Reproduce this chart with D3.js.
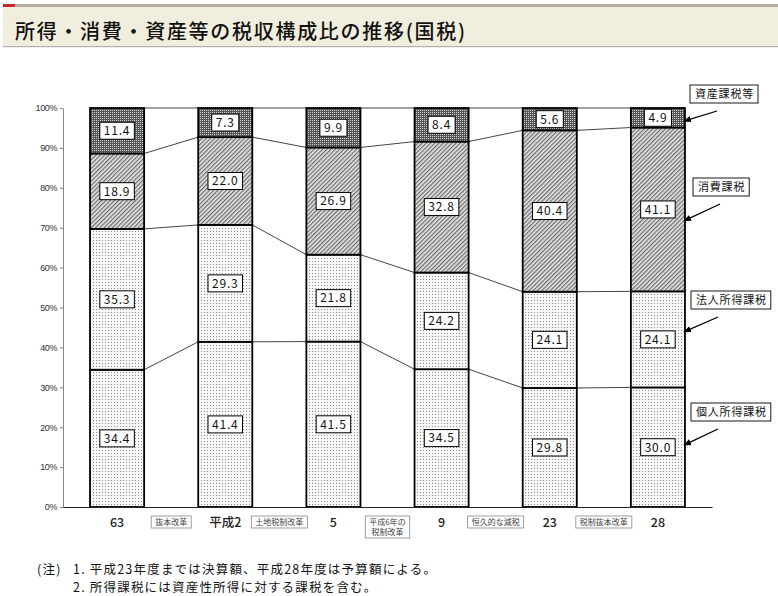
<!DOCTYPE html>
<html>
<head>
<meta charset="utf-8">
<script src="https://cdn.jsdelivr.net/npm/d3@7"></script>
<style>
  html, body { margin: 0; padding: 0; background: #fff; }
  svg { display: block; font-family: "Noto Sans CJK JP", sans-serif; }
</style>
</head>
<body>
<svg id="chart" width="778" height="596"></svg>
<script>
const years = ['63', '平成2', '5', '9', '23', '28'];
const kojin = [34.4, 41.4, 41.5, 34.5, 29.8, 30.0];
const hojin = [35.3, 29.3, 21.8, 24.2, 24.1, 24.1];
const shohi = [18.9, 22.0, 26.9, 32.8, 40.4, 41.1];
const shisan = [11.4, 7.3, 9.9, 8.4, 5.6, 4.9];
const seriesNames = ['個人所得課税', '法人所得課税', '消費課税', '資産課税等'];
const reforms = ['抜本改革', '土地税制改革', '平成6年の\n税制改革', '恒久的な減税', '税制抜本改革'];
const yTicks = [0, 0.1, 0.2, 0.3, 0.4, 0.5, 0.6, 0.7, 0.8, 0.9, 1];
// level (in %) each legend arrow points at, on the last bar
const arrowLevels = [15.5, 43.9, 71.7, 96.7];
const title = '所得・消費・資産等の税収構成比の推移(国税)';
const notes = [
  ['(注)', '1. 平成23年度までは決算額、平成28年度は予算額による。'],
  ['', '2. 所得課税には資産性所得に対する課税を含む。']
];

const width = 778;
const height = 596;
const margin = {top: 108, right: 66, bottom: 89, left: 63};

const table = years.map((year, i) => ({
  year,
  [seriesNames[0]]: kojin[i],
  [seriesNames[1]]: hojin[i],
  [seriesNames[2]]: shohi[i],
  [seriesNames[3]]: shisan[i]
}));

const stacked = d3.stack().keys(seriesNames).offset(d3.stackOffsetExpand)(table);

const svg = d3.select('#chart');

// header band
const head = svg.append('g');
head.append('rect').attr('x', 3).attr('y', 4).attr('width', width - 3).attr('height', 43).attr('fill', '#f2eedd');
head.append('rect').attr('x', 3).attr('y', 4).attr('width', width - 3).attr('height', 3).attr('fill', '#b3afa4');
head.append('rect').attr('x', 3).attr('y', 4).attr('width', 12).attr('height', 3).attr('fill', '#c8262d');
head.append('rect').attr('x', 3).attr('y', 46).attr('width', width - 3).attr('height', 1.2).attr('fill', '#b3afa4');
head.append('text')
  .attr('x', 15).attr('y', 39)
  .attr('font-size', 20).attr('font-weight', 500).attr('fill', '#111')
  .attr('textLength', 450).attr('lengthAdjust', 'spacing')
  .text(title);

// patterns
const defs = svg.append('defs');
const dots = defs.append('pattern').attr('id', 'dots').attr('patternUnits', 'userSpaceOnUse')
  .attr('width', 3).attr('height', 3);
dots.append('rect').attr('width', 3).attr('height', 3).attr('fill', '#f8f8f8');
dots.append('rect').attr('width', 1).attr('height', 1).attr('fill', '#8a8a8a');

const hatch = defs.append('pattern').attr('id', 'hatch').attr('patternUnits', 'userSpaceOnUse')
  .attr('width', 3).attr('height', 3).attr('patternTransform', 'rotate(45)');
hatch.append('rect').attr('width', 3).attr('height', 3).attr('fill', '#e6e6e6');
hatch.append('rect').attr('width', 1.3).attr('height', 3).attr('fill', '#707070');

const check = defs.append('pattern').attr('id', 'check').attr('patternUnits', 'userSpaceOnUse')
  .attr('width', 2).attr('height', 2);
check.append('rect').attr('width', 2).attr('height', 2).attr('fill', '#555');
check.append('rect').attr('width', 1).attr('height', 1).attr('fill', '#d0d0d0');

const arrowHead = defs.append('marker').attr('id', 'arrow')
  .attr('viewBox', '0 0 10 10').attr('refX', 9).attr('refY', 5)
  .attr('markerWidth', 6).attr('markerHeight', 6).attr('orient', 'auto');
arrowHead.append('path').attr('d', 'M0,1 L10,5 L0,9 Z').attr('fill', '#000');

const fills = ['url(#dots)', 'url(#dots)', 'url(#hatch)', 'url(#check)'];

// scales
const x = d3.scaleBand()
  .domain(years)
  .range([margin.left, width - 66])
  .paddingInner(0.5)
  .paddingOuter(0.25);

const y = d3.scaleLinear()
  .domain([0, 1])
  .range([height - margin.bottom, margin.top]);

// y axis
svg.append('g')
  .attr('transform', `translate(${margin.left},0)`)
  .call(d3.axisLeft(y).tickValues(yTicks).tickFormat(d3.format('.0%')).tickSize(3).tickSizeOuter(0))
  .call(g => g.select('.domain').attr('stroke', '#888'))
  .call(g => g.selectAll('.tick line').attr('stroke', '#888'))
  .call(g => g.selectAll('.tick text')
    .attr('x', -6)
    .attr('font-family', 'Liberation Sans, Arial, sans-serif')
    .attr('font-size', 9).attr('fill', '#333').attr('letter-spacing', -0.4));

// connectors between bars
const levels = d3.range(seriesNames.length).map(k => stacked[k].map(d => d[1]));
const conn = svg.append('g').attr('fill', 'none').attr('stroke', '#444').attr('stroke-width', 1);
levels.forEach(lv => {
  for (let i = 0; i < years.length - 1; i++) {
    conn.append('path').attr('d', d3.line()([
      [x(years[i]) + x.bandwidth(), y(lv[i])],
      [x(years[i + 1]), y(lv[i + 1])]
    ]));
  }
});

// bars
const layers = svg.append('g')
  .selectAll('g')
  .data(stacked)
  .join('g')
  .attr('fill', (d, i) => fills[i]);

layers.selectAll('rect')
  .data(d => d)
  .join('rect')
  .attr('x', d => x(d.data.year))
  .attr('y', d => y(d[1]))
  .attr('width', x.bandwidth())
  .attr('height', d => y(d[0]) - y(d[1]))
  .attr('stroke', '#000')
  .attr('stroke-width', 1.8);

// value labels
const labels = svg.append('g');
stacked.forEach(layer => {
  layer.forEach(d => {
    const cx = x(d.data.year) + x.bandwidth() / 2;
    const cy = y((d[0] + d[1]) / 2);
    const g = labels.append('g');
    const box = g.append('rect').attr('fill', '#fff').attr('stroke', '#000').attr('stroke-width', 1);
    const t = g.append('text')
      .attr('x', cx).attr('y', cy).attr('dy', '0.36em')
      .attr('text-anchor', 'middle')
      .attr('font-size', 12).attr('letter-spacing', 0.8).attr('fill', '#111')
      .text(d.data[layer.key].toFixed(1));
    const w = t.node().getComputedTextLength() + 8;
    box.attr('x', cx - w / 2).attr('y', cy - 8.5).attr('width', w).attr('height', 17);
  });
});

// x axis
svg.append('g')
  .attr('transform', `translate(0,${height - margin.bottom})`)
  .call(d3.axisBottom(x).tickSize(0).tickSizeOuter(0))
  .call(g => g.select('.domain').attr('stroke', '#222'))
  .call(g => g.selectAll('.tick text')
    .attr('dy', 0).attr('y', 20)
    .attr('font-family', '"Noto Sans CJK JP", sans-serif')
    .attr('font-size', 12.5).attr('font-weight', 500).attr('fill', '#222'));

// reform annotations between categories
const ann = svg.append('g');
reforms.forEach((r, i) => {
  const cx = (x(years[i]) + x(years[i + 1]) + x.bandwidth()) / 2;
  const lines = r.split('\n');
  const g = ann.append('g');
  const box = g.append('rect').attr('fill', '#fff').attr('stroke', '#888').attr('stroke-width', 0.8);
  let maxW = 0;
  lines.forEach((ln, j) => {
    const t = g.append('text')
      .attr('x', cx).attr('y', 525 + j * 10)
      .attr('text-anchor', 'middle')
      .attr('font-size', 8).attr('fill', '#444')
      .text(ln);
    maxW = Math.max(maxW, t.node().getComputedTextLength());
  });
  const w = maxW + 8;
  box.attr('x', cx - w / 2).attr('y', 516).attr('width', w).attr('height', 12 + (lines.length - 1) * 10);
});

// legend boxes with arrows, pointing at the last bar
const legendPos = [
  {x: 691, y: 403},
  {x: 691, y: 291},
  {x: 693, y: 178},
  {x: 690, y: 85}
];
const lastX = x(years[years.length - 1]) + x.bandwidth();
const leg = svg.append('g');
seriesNames.forEach((name, i) => {
  const p = legendPos[i];
  const g = leg.append('g');
  const box = g.append('rect').attr('fill', '#fff').attr('stroke', '#000').attr('stroke-width', 0.9);
  const t = g.append('text')
    .attr('x', p.x + 5).attr('y', p.y + 13)
    .attr('font-size', 11).attr('letter-spacing', 0.8).attr('fill', '#111')
    .text(name);
  const w = t.node().getComputedTextLength() + 9;
  box.attr('x', p.x).attr('y', p.y).attr('width', w).attr('height', 18);
  g.append('line')
    .attr('x1', p.x + 27).attr('y1', p.y + 26)
    .attr('x2', lastX - 1).attr('y2', y(arrowLevels[i] / 100))
    .attr('stroke', '#000').attr('stroke-width', 1.3)
    .attr('marker-end', 'url(#arrow)');
});

// notes
const nt = svg.append('g').attr('font-size', 12.5).attr('letter-spacing', 1.2).attr('fill', '#111');
notes.forEach((n, i) => {
  nt.append('text').attr('x', 37).attr('y', 573.5 + i * 18.5).text(n[0]);
  nt.append('text').attr('x', 73).attr('y', 573.5 + i * 18.5).text(n[1]);
});
</script>
</body>
</html>
